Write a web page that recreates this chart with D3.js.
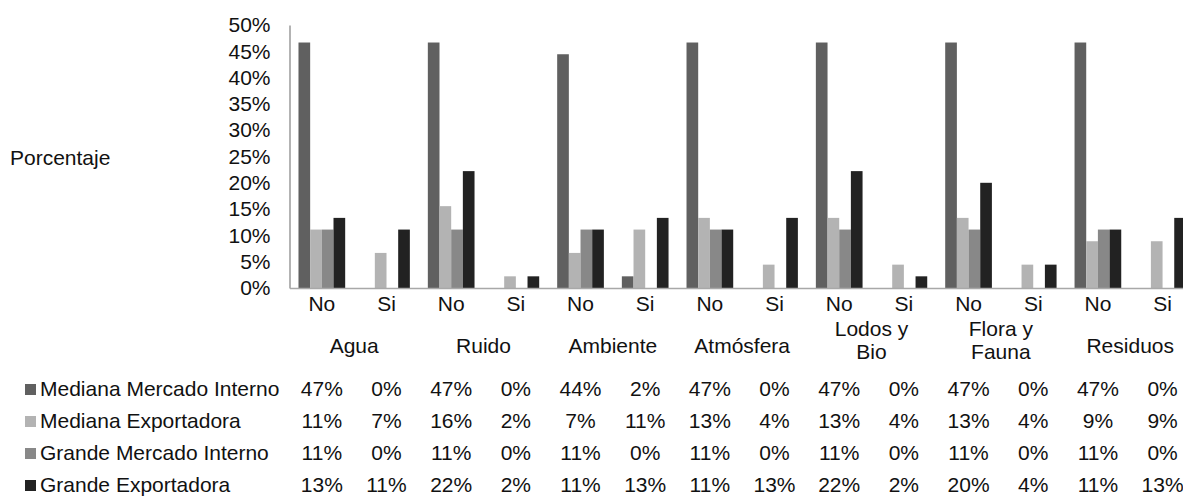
<!DOCTYPE html>
<html>
<head>
<meta charset="utf-8">
<script src="https://cdn.jsdelivr.net/npm/d3@7"></script>
<style>
  html, body { margin: 0; padding: 0; background: #fff; overflow: hidden; }
  svg { display: block; font-family: "Liberation Sans", Arial, sans-serif; }
  text { fill: #111; }
</style>
</head>
<body>
<svg id="chart" width="1183" height="496"></svg>
<script>
// Topics and answers along the category axis
const groups = ["Agua", "Ruido", "Ambiente", "Atmósfera", "Lodos y Bio", "Flora y Fauna", "Residuos"];
const groupLines = [["Agua"], ["Ruido"], ["Ambiente"], ["Atmósfera"], ["Lodos y", "Bio"], ["Flora y", "Fauna"], ["Residuos"]];
const answers = ["No", "Si"];

// Series names and colours
const seriesNames = ["Mediana Mercado Interno", "Mediana Exportadora", "Grande Mercado Interno", "Grande Exportadora"];
const seriesColors = ["#606060", "#b3b3b3", "#888888", "#222222"];

// Percentages per topic/answer (No, Si for each topic)
const medianaInterno   = [46.67, 0, 46.67, 0, 44.44, 2.22, 46.67, 0, 46.67, 0, 46.67, 0, 46.67, 0];
const medianaExport    = [11.11, 6.67, 15.56, 2.22, 6.67, 11.11, 13.33, 4.44, 13.33, 4.44, 13.33, 4.44, 8.89, 8.89];
const grandeInterno    = [11.11, 0, 11.11, 0, 11.11, 0, 11.11, 0, 11.11, 0, 11.11, 0, 11.11, 0];
const grandeExport     = [13.33, 11.11, 22.22, 2.22, 11.11, 13.33, 11.11, 13.33, 22.22, 2.22, 20, 4.44, 11.11, 13.33];
const seriesValues = [medianaInterno, medianaExport, grandeInterno, grandeExport];

// Value axis ticks
const yTicks = [0, 5, 10, 15, 20, 25, 30, 35, 40, 45, 50];

const FONT = 21;
const svg = d3.select("#chart");

const categories = [];
groups.forEach(g => answers.forEach(a => categories.push(g + "|" + a)));

const plotLeft = 289.5, plotRight = 1194.9, plotTop = 25, plotBottom = 288;

const x0 = d3.scaleBand().domain(categories).range([plotLeft, plotRight]).padding(0);
const x1 = d3.scaleBand().domain(seriesNames).range([0, x0.bandwidth()]).paddingInner(0).paddingOuter(0.77);
const y = d3.scaleLinear().domain([0, 50]).range([plotBottom, plotTop]);
const pct = d3.format(".0%");

// Bars
const rows = categories.map((c, i) => ({ key: c, vals: seriesValues.map(s => s[i]) }));
const cat = svg.append("g").selectAll("g").data(rows).join("g")
  .attr("transform", d => `translate(${x0(d.key)},0)`);
cat.selectAll("rect")
  .data(d => d.vals.map((v, k) => ({ name: seriesNames[k], v, k })))
  .join("rect")
  .attr("x", d => x1(d.name))
  .attr("width", x1.bandwidth())
  .attr("y", d => y(d.v))
  .attr("height", d => y(0) - y(d.v))
  .attr("fill", d => seriesColors[d.k]);

// Value axis
const yAxis = svg.append("g")
  .attr("transform", `translate(${plotLeft},0)`)
  .call(d3.axisLeft(y).tickValues(yTicks).tickSize(0).tickSizeOuter(0).tickPadding(19)
    .tickFormat(d => d + "%"));
yAxis.select(".domain").attr("stroke", "#9a9a9a").attr("stroke-width", 1.5);
yAxis.selectAll("text").attr("font-size", FONT).attr("fill", "#111")
  .attr("font-family", "Liberation Sans, Arial, sans-serif");

// Category axis (No / Si)
const xAxis = svg.append("g")
  .attr("transform", `translate(0,${plotBottom})`)
  .call(d3.axisBottom(x0).tickSize(0).tickSizeOuter(0).tickPadding(8)
    .tickFormat(d => d.split("|")[1]));
xAxis.select(".domain").attr("stroke", "#a8a8a8").attr("stroke-width", 1.5);
xAxis.selectAll("text").attr("font-size", FONT).attr("fill", "#111")
  .attr("font-family", "Liberation Sans, Arial, sans-serif");

// Topic labels, centred under each No/Si pair
groups.forEach((g, gi) => {
  const cx = x0(g + "|No") + x0.bandwidth();
  const lines = groupLines[gi];
  const t = svg.append("text").attr("text-anchor", "middle").attr("font-size", FONT);
  if (lines.length === 1) {
    t.append("tspan").attr("x", cx).attr("y", 353).text(lines[0]);
  } else {
    t.append("tspan").attr("x", cx).attr("y", 336).text(lines[0]);
    t.append("tspan").attr("x", cx).attr("y", 359).text(lines[1]);
  }
});

// Axis title
svg.append("text").attr("x", 10).attr("y", 165).attr("font-size", FONT).text("Porcentaje");

// Data table with legend keys
const rowBase = [396, 428, 460, 492];
seriesNames.forEach((name, k) => {
  const by = rowBase[k];
  svg.append("rect").attr("x", 25).attr("y", by - 12).attr("width", 11).attr("height", 11)
    .attr("fill", seriesColors[k]);
  svg.append("text").attr("x", 40).attr("y", by).attr("font-size", FONT).text(name);
  svg.append("g").selectAll("text").data(categories).join("text")
    .attr("x", c => x0(c) + x0.bandwidth() / 2)
    .attr("y", by)
    .attr("text-anchor", "middle")
    .attr("font-size", FONT)
    .text((c, i) => pct(Math.round(seriesValues[k][i]) / 100));
});
</script>
</body>
</html>
